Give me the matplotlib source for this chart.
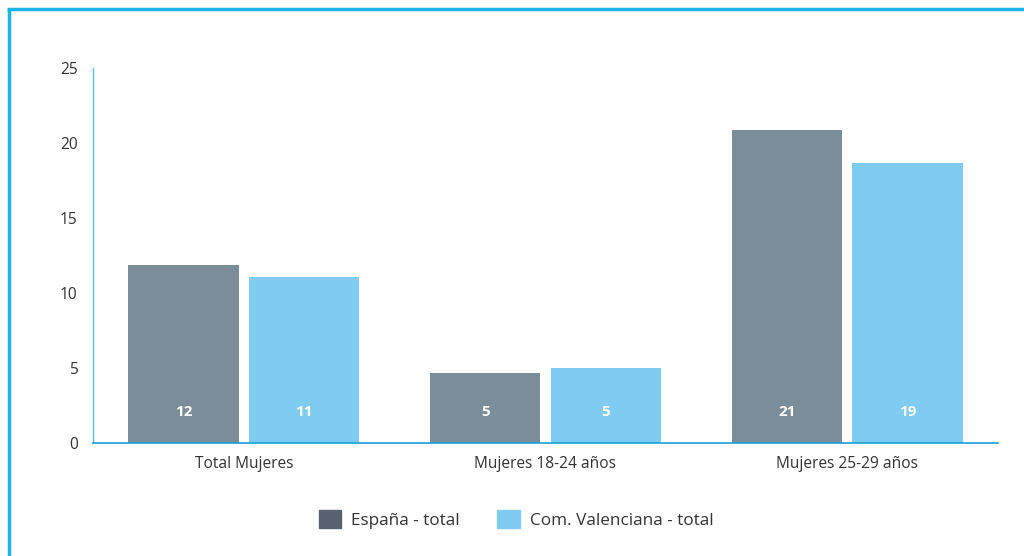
import numpy as np
import matplotlib
matplotlib.use('Agg')
from matplotlib import pyplot as plt
from matplotlib.lines import Line2D

plt.rcParams['font.family'] = ['Open Sans', 'DejaVu Sans']

categories = ['Total Mujeres', 'Mujeres 18-24 años', 'Mujeres 25-29 años']
series_names = ['España - total', 'Com. Valenciana - total']
espana = [11.9, 4.7, 20.9]
valenciana = [11.1, 5.0, 18.7]
espana_labels = ['12', '5', '21']
valenciana_labels = ['11', '5', '19']

c_esp = '#7b8d99'
c_esp_legend = '#5a6272'
c_val = '#80cbf0'
c_axis = '#1a9fd8'
c_text = '#333333'

fig = plt.figure(figsize=(10.24, 5.56), dpi=100)
ax = fig.add_axes([93 / 1024, 1 - 443 / 556, 905 / 1024, 375 / 556])

x = np.arange(len(categories))
w = 0.365
off = 0.2
b1 = ax.bar(x - off, espana, w, color=c_esp)
b2 = ax.bar(x + off, valenciana, w, color=c_val)

for rects, labels in [(b1, espana_labels), (b2, valenciana_labels)]:
    for r, lab in zip(rects, labels):
        ax.text(r.get_x() + r.get_width() / 2, 2.1, lab, ha='center', va='center',
                color='white', fontsize=11, fontweight='bold')

ax.set_xlim(-0.5, 2.5)
ax.set_ylim(0, 25)
ax.set_yticks([0, 5, 10, 15, 20, 25])
ax.set_xticks(x)
ax.set_xticklabels(categories)
ax.tick_params(axis='both', length=0, labelsize=11.2, labelcolor=c_text)
ax.tick_params(axis='y', pad=11)
ax.tick_params(axis='x', pad=9.5)

for s in ['top', 'right']:
    ax.spines[s].set_visible(False)
ax.spines['left'].set_color('#4fc0ec')
ax.spines['bottom'].set_color(c_axis)
ax.spines['left'].set_linewidth(1.0)
ax.spines['bottom'].set_linewidth(1.2)

handles = [plt.Rectangle((0, 0), 1, 1, color=c_esp_legend),
           plt.Rectangle((0, 0), 1, 1, color=c_val)]
fig.legend(handles, series_names, loc='center', bbox_to_anchor=(0.504, 0.066),
           ncol=2, frameon=False, fontsize=12.3, handlelength=1.3, handleheight=1.3,
           handletextpad=0.6, columnspacing=2.2, labelcolor=c_text)

# frame border (left and top)
fig.add_artist(Line2D([8.5 / 1024, 8.5 / 1024], [0, 1 - 9 / 556], color='#1cb4e6', lw=2.5,
                      transform=fig.transFigure, solid_capstyle='butt'))
fig.add_artist(Line2D([7.3 / 1024, 1], [1 - 9 / 556, 1 - 9 / 556], color='#1cb4e6', lw=2.5,
                      transform=fig.transFigure, solid_capstyle='butt'))

fig.savefig('out.png', dpi=100)
